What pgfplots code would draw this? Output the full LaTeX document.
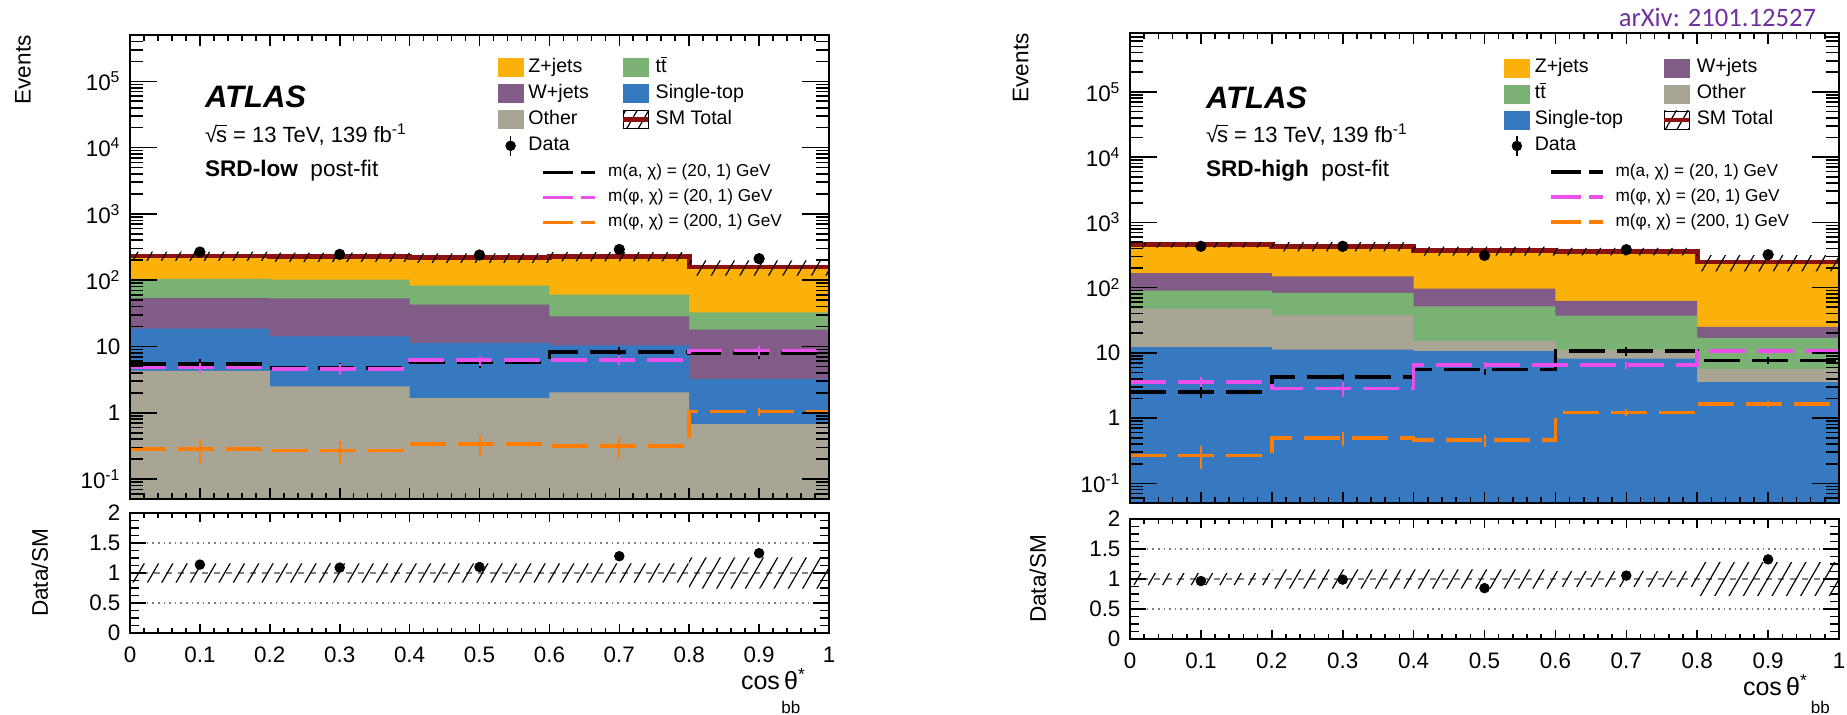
\documentclass[border=0pt]{standalone}
\usepackage{fontspec}
\setmainfont{Liberation Sans}
\newfontfamily\carlito{Carlito}
\usepackage{pgfplots}
\pgfplotsset{compat=1.18}
\usetikzlibrary{patterns.meta}

% process colours
\definecolor{zjets}{RGB}{252,176,10}
\definecolor{wjets}{RGB}{128,92,134}
\definecolor{ttbar}{RGB}{122,178,116}
\definecolor{stop}{RGB}{55,121,192}
\definecolor{other}{RGB}{168,165,148}
\definecolor{smred}{RGB}{140,18,18}
\definecolor{sigpink}{RGB}{236,80,236}
\definecolor{sigorange}{RGB}{255,125,0}
\definecolor{arxiv}{RGB}{112,48,160}

% t with a bar, and sqrt(s) with overline
\newcommand\ttb{t\setbox0\hbox{t}\rlap{\rule[\dimexpr\ht0+0.9pt]{\wd0}{0.6pt}}t}
\newcommand\sqrts{\leavevmode\setbox0\hbox{√}\setbox2\hbox{s}√\kern-0.05em\rlap{\rule[\dimexpr\ht0-0.6pt]{\wd2}{0.6pt}}s}

% legend helpers
\newcommand\boxentry[2]{\addlegendimage{legend image code/.code={\fill[#1] (0pt,-4.5pt) rectangle (12.5pt,4.5pt);}}\addlegendentry{#2}}
\newcommand\smentry{\addlegendimage{legend image code/.code={\fill[pattern={Lines[angle=60,distance=5pt,line width=0.6pt]}] (0pt,-4.5pt) rectangle (12.5pt,4.5pt);\draw[smred,line width=2.4pt] (0pt,0pt) -- (12.5pt,0pt);}}\addlegendentry{SM Total}}
\newcommand\dataentry{\addlegendimage{legend image code/.code={\draw[line width=0.8pt] (6.25pt,-5pt) -- (6.25pt,5pt);\fill (6.25pt,0pt) circle (2.4pt);}}\addlegendentry{Data}}
\newcommand\sigentry[2]{\addlegendimage{legend image code/.code={\draw[#1,line width=1.75pt,dash pattern=on 15pt off 4pt] (0pt,0pt) -- (26pt,0pt);}}\addlegendentry{#2}}

\pgfplotsset{
  atlas/.style={
    scale only axis, axis on top,
    tick align=inside, xtick pos=both, ytick pos=both,
    axis line style={line width=0.9pt},
    tick style={line width=0.8pt, black},
    tick label style={font=\fontsize{11.2}{13}\selectfont},
    yticklabel style={xshift=-1.25pt},
    xmin=0, xmax=1,
  },
  % x ticks are drawn by an overlay axis, so that they can be shorter than the y ticks
  xtickoverlay/.style={
    scale only axis, hide y axis,
    tick align=inside, xtick pos=both,
    axis line style={line width=0.9pt},
    tick style={line width=0.8pt, black},
    tick label style={font=\fontsize{11.2}{13}\selectfont},
    xmin=0, xmax=1, ymin=0, ymax=1,
    xtick={0,0.1,0.2,0.3,0.4,0.5,0.6,0.7,0.8,0.9,1},
    minor x tick num=4,
  },
  logticks/.style={
    ytick={0.1,1,10,100,1000,10000,100000},
    yticklabels={10\textsuperscript{-1},1,10,10\textsuperscript{2},10\textsuperscript{3},10\textsuperscript{4},10\textsuperscript{5}},
    minor ytick={0.06,0.07,0.08,0.09,0.2,0.3,0.4,0.5,0.6,0.7,0.8,0.9,2,3,4,5,6,7,8,9,20,30,40,50,60,70,80,90,200,300,400,500,600,700,800,900,2000,3000,4000,5000,6000,7000,8000,9000,20000,30000,40000,50000,60000,70000,80000,90000,200000,300000,400000,500000,600000,700000,800000},
    xtick=\empty,
    major tick length=13.5pt, minor tick length=6.5pt,
    ylabel={Events},
    ylabel style={anchor=east, inner sep=0pt, font=\fontsize{11.3}{13}\selectfont},
  },
  ratioticks/.style={
    ymin=0, ymax=2,
    ytick={0,0.5,1,1.5,2}, yticklabels={0,0.5,1,1.5,2},
    minor y tick num=3,
    xtick=\empty,
    major tick length=8pt, minor tick length=4.5pt,
    ylabel={Data/SM},
    ylabel style={anchor=center, inner sep=0pt, font=\fontsize{11.3}{13}\selectfont},
  },
  bkglegend/.style={
    legend columns=2, legend cell align=left,
    legend style={anchor=north west, draw=none, fill=none, inner sep=0pt, outer sep=0pt,
      font=\fontsize{9.8}{11}\selectfont, row sep=2pt,
      nodes={inner sep=1pt, text height=7pt, text depth=2pt},
      /tikz/every odd column/.append style={column sep=1.5pt}},
  },
  siglegend/.style={
    legend cell align=left,
    legend style={anchor=north west, draw=none, fill=none, inner sep=0pt, outer sep=0pt,
      font=\fontsize{8.6}{10}\selectfont, row sep=2.3pt,
      nodes={inner sep=1pt, text height=6.2pt, text depth=2pt},
      /tikz/every odd column/.append style={column sep=4.5pt}},
  },
  hatch/.style={pattern={Lines[angle=60,distance=6.2pt,line width=0.6pt]}, draw=none},
}

\begin{document}
\begin{tikzpicture}
\path[use as bounding box] (0pt,0pt) rectangle (923.5pt,357pt);

% ===================== SRD-low =====================
\begin{axis}[atlas, logticks, ymode=log, ymin=0.05, ymax=5e5,
  at={(65pt,339.5pt)}, anchor=north west, width=349.5pt, height=232pt,
  every axis y label/.append style={at={(axis description cs:-0.153,1)}},
  bkglegend,
  legend style={at={(axis description cs:0.526,0.953)}, /tikz/column 2/.style={column sep=15pt}}]
% stacked backgrounds, cumulative tops
\addplot[const plot, fill=zjets, draw=none, forget plot] coordinates {(0,0.001) (0,232) (0.2,225) (0.4,218) (0.6,228) (0.8,158) (1,158) (1,0.001)} -- cycle;
\addplot[const plot, fill=ttbar, draw=none, forget plot] coordinates {(0,0.001) (0,105) (0.2,102) (0.4,83) (0.6,60.6) (0.8,32.7) (1,32.7) (1,0.001)} -- cycle;
\addplot[const plot, fill=wjets, draw=none, forget plot] coordinates {(0,0.001) (0,54) (0.2,53) (0.4,42.8) (0.6,28.5) (0.8,17.9) (1,17.9) (1,0.001)} -- cycle;
\addplot[const plot, fill=stop, draw=none, forget plot] coordinates {(0,0.001) (0,18.6) (0.2,14.2) (0.4,11.3) (0.6,10.4) (0.8,3.23) (1,3.23) (1,0.001)} -- cycle;
\addplot[const plot, fill=other, draw=none, forget plot] coordinates {(0,0.001) (0,4.3) (0.2,2.5) (0.4,1.67) (0.6,2.03) (0.8,0.675) (1,0.675) (1,0.001)} -- cycle;
% SM total and its uncertainty
\addplot[const plot, smred, line width=2.4pt, forget plot] coordinates {(0,232) (0.2,225) (0.4,218) (0.6,228) (0.8,158) (1,158)};
\addplot[hatch, forget plot] coordinates {(0,269.1) (0.2,269.1) (0.2,261.0) (0.4,261.0) (0.4,252.9) (0.6,252.9) (0.6,264.5) (0.8,264.5) (0.8,199.1) (1,199.1) (1,116.9) (0.8,116.9) (0.8,191.5) (0.6,191.5) (0.6,183.1) (0.4,183.1) (0.4,189.0) (0.2,189.0) (0.2,194.9) (0,194.9)} -- cycle;
% signals
\addplot[const plot, black, line width=1.75pt, dash pattern=on 18pt off 6pt, forget plot] coordinates {(0,5.4) (0.2,4.75) (0.4,5.75) (0.6,8.3) (0.8,8.0) (1,8.0)};
\addplot[draw=none, mark=none, forget plot, error bars/.cd, y dir=both, y explicit, error mark=none, error bar style={draw=black, solid, line width=1pt}] coordinates {(0.1,5.4) +- (0,0.97) (0.3,4.75) +- (0,0.86) (0.5,5.75) +- (0,1.04) (0.7,8.3) +- (0,1.5) (0.9,8.0) +- (0,1.44)};
\addplot[const plot, sigpink, line width=1.75pt, dash pattern=on 18pt off 6pt, forget plot] coordinates {(0,4.85) (0.2,4.6) (0.4,6.2) (0.6,6.3) (0.8,8.7) (1,8.7)};
\addplot[draw=none, mark=none, forget plot, error bars/.cd, y dir=both, y explicit, error mark=none, error bar style={draw=sigpink, solid, line width=1pt}] coordinates {(0.1,4.85) +- (0,0.87) (0.3,4.6) +- (0,0.83) (0.5,6.2) +- (0,1.1) (0.7,6.3) +- (0,1.1) (0.9,8.7) +- (0,1.5)};
\addplot[const plot, sigorange, line width=1.75pt, dash pattern=on 18pt off 6pt, forget plot] coordinates {(0,0.286) (0.2,0.27) (0.4,0.336) (0.6,0.318) (0.8,1.05) (1,1.05)};
\addplot[draw=none, mark=none, forget plot, error bars/.cd, y dir=both, y explicit, error mark=none, error bar style={draw=sigorange, solid, line width=1pt}] coordinates {(0.1,0.286) +- (0,0.11) (0.3,0.27) +- (0,0.1) (0.5,0.336) +- (0,0.11) (0.7,0.318) +- (0,0.11) (0.9,1.05) +- (0,0.15)};
% data
\addplot[black, line width=0.8pt, only marks, mark=*, mark size=2.4pt, forget plot, error bars/.cd, y dir=both, y explicit, error mark=none] coordinates {(0.1,266) +- (0,16) (0.3,245) +- (0,16) (0.5,240) +- (0,15) (0.7,291) +- (0,17) (0.9,211) +- (0,15)};
% legend
\boxentry{zjets}{Z+jets}
\boxentry{ttbar}{\ttb}
\boxentry{wjets}{W+jets}
\boxentry{stop}{Single-top}
\boxentry{other}{Other}
\smentry
\dataentry
% labels
\node[anchor=base west, font={\fontsize{15.5}{18}\selectfont\bfseries\itshape}] at (axis description cs:0.0973,0.8427) {ATLAS};
\node[anchor=base west, font={\fontsize{11}{13}\selectfont}] at (axis description cs:0.0973,0.769) {\sqrts{} = 13 TeV, 139 fb\textsuperscript{-1}};
\node[anchor=base west, font={\fontsize{11.3}{13}\selectfont}] at (axis description cs:0.0973,0.696) {\textbf{SRD-low}\hspace{0.55em}post-fit};
\end{axis}

\begin{axis}[xtickoverlay, at={(65pt,339.5pt)}, anchor=north west, width=349.5pt, height=232pt,
  xticklabels={}, major tick length=5.5pt, minor tick length=3pt,
  siglegend, legend style={at={(axis description cs:0.589,0.726)}}]
\sigentry{black}{m(a, χ) = (20, 1) GeV}
\sigentry{sigpink}{m(φ, χ) = (20, 1) GeV}
\sigentry{sigorange}{m(φ, χ) = (200, 1) GeV}
\end{axis}

\begin{axis}[atlas, ratioticks, clip=false,
  at={(65pt,100.5pt)}, anchor=north west, width=349.5pt, height=60pt,
  every axis y label/.append style={at={(axis description cs:-0.129,0.5)}}]
\addplot[gray, dotted, line width=0.8pt, forget plot] coordinates {(0,0.5) (1,0.5)};
\addplot[gray, dotted, line width=0.8pt, forget plot] coordinates {(0,1.5) (1,1.5)};
\addplot[gray, dashed, line width=0.8pt, forget plot] coordinates {(0,1) (1,1)};
\addplot[hatch, forget plot] coordinates {(0,1.16) (0.8,1.16) (0.8,1.26) (1,1.26) (1,0.74) (0.8,0.74) (0.8,0.84) (0,0.84)} -- cycle;
\addplot[black, only marks, mark=*, mark size=2.4pt, forget plot] coordinates {(0.1,1.14) (0.3,1.09) (0.5,1.10) (0.7,1.28) (0.9,1.33)};
\node[anchor=base east, font={\fontsize{12.5}{14}\selectfont}] at (axis description cs:0.977,-0.467) {cos\,θ\textsuperscript{*}};
\node[anchor=base east, font={\fontsize{8.5}{10}\selectfont}] at (axis description cs:0.969,-0.667) {bb};
\end{axis}

\begin{axis}[xtickoverlay, at={(65pt,100.5pt)}, anchor=north west, width=349.5pt, height=60pt,
  xticklabels={0,0.1,0.2,0.3,0.4,0.5,0.6,0.7,0.8,0.9,1},
  xticklabel style={yshift=-3.5pt},
  major tick length=4.5pt, minor tick length=2.5pt]
\end{axis}

% ===================== SRD-high =====================
\begin{axis}[atlas, logticks, ymode=log, ymin=0.05, ymax=8e5,
  at={(565pt,340.5pt)}, anchor=north west, width=354.5pt, height=235pt,
  every axis y label/.append style={at={(axis description cs:-0.154,1)}},
  bkglegend,
  legend style={at={(axis description cs:0.5275,0.949)}, /tikz/column 2/.style={column sep=18.5pt}}]
\addplot[const plot, fill=zjets, draw=none, forget plot] coordinates {(0,0.001) (0,455) (0.2,430) (0.4,368) (0.6,360) (0.8,247) (1,247) (1,0.001)} -- cycle;
\addplot[const plot, fill=wjets, draw=none, forget plot] coordinates {(0,0.001) (0,167) (0.2,149) (0.4,96.6) (0.6,62.5) (0.8,25) (1,25) (1,0.001)} -- cycle;
\addplot[const plot, fill=ttbar, draw=none, forget plot] coordinates {(0,0.001) (0,90) (0.2,82.8) (0.4,51.8) (0.6,37.3) (0.8,17) (1,17) (1,0.001)} -- cycle;
\addplot[const plot, fill=other, draw=none, forget plot] coordinates {(0,0.001) (0,47.1) (0.2,37.7) (0.4,15.1) (0.6,11) (0.8,5.7) (1,5.7) (1,0.001)} -- cycle;
\addplot[const plot, fill=stop, draw=none, forget plot] coordinates {(0,0.001) (0,12.2) (0.2,11.2) (0.4,10.6) (0.6,8.2) (0.8,3.55) (1,3.55) (1,0.001)} -- cycle;
\addplot[const plot, smred, line width=2.4pt, forget plot] coordinates {(0,455) (0.2,430) (0.4,368) (0.6,360) (0.8,247) (1,247)};
\addplot[hatch, forget plot] coordinates {(0,500.5) (0.2,500.5) (0.2,498.8) (0.4,498.8) (0.4,426.9) (0.6,426.9) (0.6,406.8) (0.8,406.8) (0.8,316.2) (1,316.2) (1,177.8) (0.8,177.8) (0.8,313.2) (0.6,313.2) (0.6,309.1) (0.4,309.1) (0.4,361.2) (0.2,361.2) (0.2,409.5) (0,409.5)} -- cycle;
\addplot[const plot, black, line width=1.75pt, dash pattern=on 18pt off 6pt, forget plot] coordinates {(0,2.53) (0.2,4.3) (0.4,5.55) (0.6,10.6) (0.8,7.6) (1,7.6)};
\addplot[draw=none, mark=none, forget plot, error bars/.cd, y dir=both, y explicit, error mark=none, error bar style={draw=black, solid, line width=1pt}] coordinates {(0.1,2.53) +- (0,0.5) (0.3,4.3) +- (0,0.5) (0.5,5.55) +- (0,0.9) (0.7,10.6) +- (0,1.5) (0.9,7.6) +- (0,0.9)};
\addplot[const plot, sigpink, line width=1.75pt, dash pattern=on 18pt off 6pt, forget plot] coordinates {(0,3.6) (0.2,2.84) (0.4,6.47) (0.6,6.47) (0.8,10.6) (1,10.6)};
\addplot[draw=none, mark=none, forget plot, error bars/.cd, y dir=both, y explicit, error mark=none, error bar style={draw=sigpink, solid, line width=1pt}] coordinates {(0.1,3.6) +- (0,0.6) (0.3,2.84) +- (0,0.7) (0.5,6.47) +- (0,0.8) (0.7,6.47) +- (0,0.8) (0.9,10.6) +- (0,1.3)};
\addplot[const plot, sigorange, line width=1.75pt, dash pattern=on 18pt off 6pt, forget plot] coordinates {(0,0.268) (0.2,0.5) (0.4,0.46) (0.6,1.21) (0.8,1.66) (1,1.66)};
\addplot[draw=none, mark=none, forget plot, error bars/.cd, y dir=both, y explicit, error mark=none, error bar style={draw=sigorange, solid, line width=1pt}] coordinates {(0.1,0.268) +- (0,0.1) (0.3,0.5) +- (0,0.12) (0.5,0.46) +- (0,0.1) (0.7,1.21) +- (0,0.15) (0.9,1.66) +- (0,0.2)};
\addplot[black, line width=0.8pt, only marks, mark=*, mark size=2.4pt, forget plot, error bars/.cd, y dir=both, y explicit, error mark=none] coordinates {(0.1,430) +- (0,21) (0.3,430) +- (0,21) (0.5,312) +- (0,18) (0.7,382) +- (0,20) (0.9,320) +- (0,18)};
\boxentry{zjets}{Z+jets}
\boxentry{wjets}{W+jets}
\boxentry{ttbar}{\ttb}
\boxentry{other}{Other}
\boxentry{stop}{Single-top}
\smentry
\dataentry
\node[anchor=base west, font={\fontsize{15.5}{18}\selectfont\bfseries\itshape}] at (axis description cs:0.0973,0.840) {ATLAS};
\node[anchor=base west, font={\fontsize{11}{13}\selectfont}] at (axis description cs:0.0973,0.768) {\sqrts{} = 13 TeV, 139 fb\textsuperscript{-1}};
\node[anchor=base west, font={\fontsize{11.3}{13}\selectfont}] at (axis description cs:0.0973,0.694) {\textbf{SRD-high}\hspace{0.55em}post-fit};
\end{axis}

\begin{axis}[xtickoverlay, at={(565pt,340.5pt)}, anchor=north west, width=354.5pt, height=235pt,
  xticklabels={}, major tick length=5.5pt, minor tick length=3pt,
  siglegend, legend style={at={(axis description cs:0.591,0.7255)}}]
\sigentry{black}{m(a, χ) = (20, 1) GeV}
\sigentry{sigpink}{m(φ, χ) = (20, 1) GeV}
\sigentry{sigorange}{m(φ, χ) = (200, 1) GeV}
\end{axis}

\begin{axis}[atlas, ratioticks, clip=false,
  at={(565pt,97.5pt)}, anchor=north west, width=354.5pt, height=60pt,
  every axis y label/.append style={at={(axis description cs:-0.13,0.5)}}]
\addplot[gray, dotted, line width=0.8pt, forget plot] coordinates {(0,0.5) (1,0.5)};
\addplot[gray, dotted, line width=0.8pt, forget plot] coordinates {(0,1.5) (1,1.5)};
\addplot[gray, dashed, line width=0.8pt, forget plot] coordinates {(0,1) (1,1)};
\addplot[hatch, forget plot] coordinates {(0,1.10) (0.2,1.10) (0.2,1.16) (0.6,1.16) (0.6,1.13) (0.8,1.13) (0.8,1.28) (1,1.28) (1,0.72) (0.8,0.72) (0.8,0.87) (0.6,0.87) (0.6,0.84) (0.2,0.84) (0.2,0.90) (0,0.90)} -- cycle;
\addplot[black, only marks, mark=*, mark size=2.4pt, forget plot] coordinates {(0.1,0.966) (0.3,0.99) (0.5,0.848) (0.7,1.057) (0.9,1.327)};
\node[anchor=base east, font={\fontsize{12.5}{14}\selectfont}] at (axis description cs:0.966,-0.467) {cos\,θ\textsuperscript{*}};
\node[anchor=base east, font={\fontsize{8.5}{10}\selectfont}] at (axis description cs:0.997,-0.617) {bb};
\end{axis}

\begin{axis}[xtickoverlay, at={(565pt,97.5pt)}, anchor=north west, width=354.5pt, height=60pt,
  xticklabels={0,0.1,0.2,0.3,0.4,0.5,0.6,0.7,0.8,0.9,1},
  xticklabel style={yshift=-3.5pt},
  major tick length=4.5pt, minor tick length=2.5pt]
\end{axis}

\node[anchor=base east, text=arxiv, font={\carlito\fontsize{13.3}{15}\selectfont}] at (911.5pt,343.5pt) {arXiv: 2101.12527};
\end{tikzpicture}
\end{document}
